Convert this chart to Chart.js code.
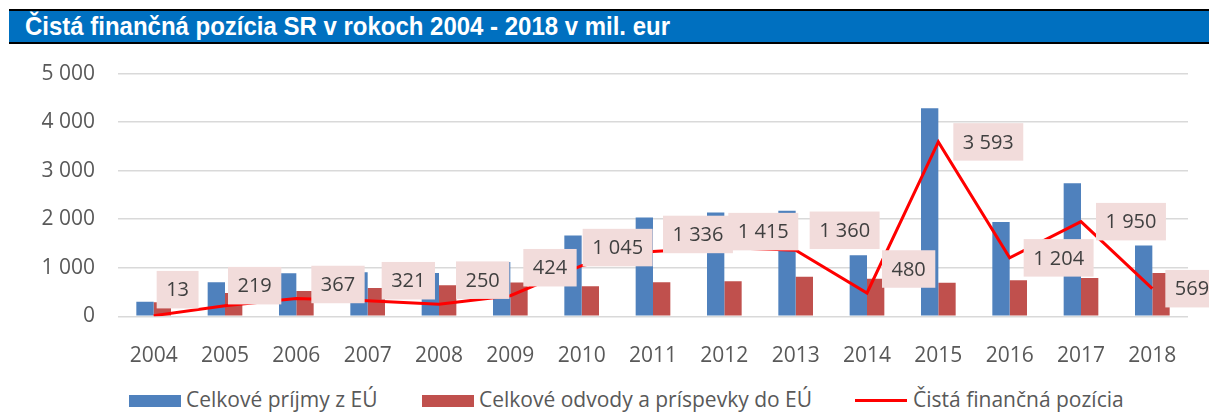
<!DOCTYPE html>
<html>
<head>
<meta charset="utf-8">
<script src="https://cdn.jsdelivr.net/npm/chart.js@4/dist/chart.umd.min.js"></script>
<style>
  html, body { margin:0; padding:0; background:#fff; }
  body { width:1209px; height:412px; position:relative; overflow:hidden; font-family:"Open Sans", sans-serif; }
  #titleBar { position:absolute; left:9px; top:9px; right:0; height:31px;
              background:#0070C0; border-top:2px solid #000; border-bottom:2px solid #000; }
  #titleText { position:absolute; left:16px; top:0; line-height:31px; white-space:nowrap;
               font-family:"Liberation Sans Narrow","Arial Narrow","Liberation Sans",sans-serif;
               font-weight:bold; font-size:26px; color:#fff; transform-origin:0 50%; }
  #chartBox { position:absolute; left:0; top:38px; width:1209px; height:332px; }
  .lg-swatch { position:absolute; }
  .lg-text { position:absolute; top:387px; font-size:21px; line-height:24px; color:#595959; white-space:nowrap; }
</style>
</head>
<body>
<div id="titleBar"><span id="titleText">Čistá finančná pozícia SR v rokoch 2004 - 2018 v mil. eur</span></div>
<div id="chartBox"><canvas id="c"></canvas></div>

<div class="lg-swatch" style="left:129px;top:395px;width:52px;height:12px;background:#4F81BD"></div>
<div class="lg-text" style="left:186px">Celkové príjmy z EÚ</div>
<div class="lg-swatch" style="left:422px;top:395px;width:52px;height:12px;background:#C0504D"></div>
<div class="lg-text" style="left:479px">Celkové odvody a príspevky do EÚ</div>
<div class="lg-swatch" style="left:855px;top:399px;width:52px;height:3px;background:#FF0000"></div>
<div class="lg-text" style="left:913px">Čistá finančná pozícia</div>

<script>
// data (mil. eur)
const YEARS    = ["2004","2005","2006","2007","2008","2009","2010","2011","2012","2013","2014","2015","2016","2017","2018"];
const RECEIPTS = [300, 700, 889, 905, 890, 1118, 1664, 2038, 2137, 2177, 1256, 4285, 1945, 2740, 1460];
const CONTRIB  = [287, 481, 522, 584, 640,  694,  619,  702,  722,  817,  776,  692,  741,  790,  891];
const NET      = [ 13, 219, 367, 321, 250,  424, 1045, 1336, 1415, 1360,  480, 3593, 1204, 1950,  569];
const Y_TICKS  = [0, 1000, 2000, 3000, 4000, 5000];

// label nudges (px) – the Excel labels were hand-moved for the early years
const LABEL_DX = [3, 3, 15, 14, 17, 13, 1, 10, 4, 14, 15, 15, 14, 15, 13];
const LABEL_DY = [-26, -20, -14, -20, -24, -28, -18, -17, -16, -20, -24, 0, 0, 0, 0];

function fmt(v){ return String(v).replace(/\B(?=(\d{3})+(?!\d))/g, " "); }

// squeeze title to the reference width
(function(){
  const t = document.getElementById("titleText");
  const w = t.getBoundingClientRect().width;
  if (w > 0) t.style.transform = "scaleX(" + (645 / w) + ")";
})();

const netLabels = {
  id: "netLabels",
  afterDatasetsDraw(chart){
    const meta = chart.getDatasetMeta(2);
    const ctx = chart.ctx;
    ctx.save();
    ctx.font = "20px 'Open Sans'";
    ctx.textBaseline = "middle";
    ctx.textAlign = "center";
    meta.data.forEach((pt, i) => {
      const txt = fmt(NET[i]);
      const w = ctx.measureText(txt).width + 19;
      const h = 37.5;
      const x0 = pt.x + LABEL_DX[i];
      const cy = pt.y + LABEL_DY[i];
      ctx.fillStyle = "#F2DCDB";
      ctx.fillRect(x0, cy - h/2, w, h);
      ctx.fillStyle = "#404040";
      ctx.fillText(txt, x0 + w/2, cy + 1);
    });
    ctx.restore();
  }
};

Chart.defaults.font.family = "'Open Sans'";
Chart.defaults.color = "#595959";

new Chart(document.getElementById("c"), {
  data: {
    labels: YEARS,
    datasets: [
      { type:"bar", label:"Celkové príjmy z EÚ", data:RECEIPTS, backgroundColor:"#4F81BD",
        categoryPercentage:0.486, barPercentage:1, order:1 },
      { type:"bar", label:"Celkové odvody a príspevky do EÚ", data:CONTRIB, backgroundColor:"#C0504D",
        categoryPercentage:0.486, barPercentage:1, order:1 },
      { type:"line", label:"Čistá finančná pozícia", data:NET, borderColor:"#FF0000", borderWidth:3,
        pointRadius:0, tension:0, fill:false, order:0 }
    ]
  },
  options: {
    responsive:true, maintainAspectRatio:false, animation:false,
    layout:{ padding:{ top:12, right:21, left:0, bottom:0 } },
    plugins:{ legend:{ display:false }, tooltip:{ enabled:false } },
    scales:{
      x:{
        grid:{ display:false }, border:{ display:false },
        ticks:{ font:{ size:21 }, padding:19, maxRotation:0 },
        afterFit(s){ s.height = 53.7; }
      },
      y:{
        min:0, max:5000,
        afterBuildTicks(s){ s.ticks = Y_TICKS.map(v => ({ value:v })); },
        grid:{ color:"#D9D9D9", lineWidth:1.5, drawTicks:false }, border:{ display:false },
        ticks:{ font:{ size:21 }, padding:23, callback:v => fmt(v) },
        afterFit(s){ s.width = 118; }
      }
    }
  },
  plugins:[netLabels]
});
</script>
</body>
</html>
